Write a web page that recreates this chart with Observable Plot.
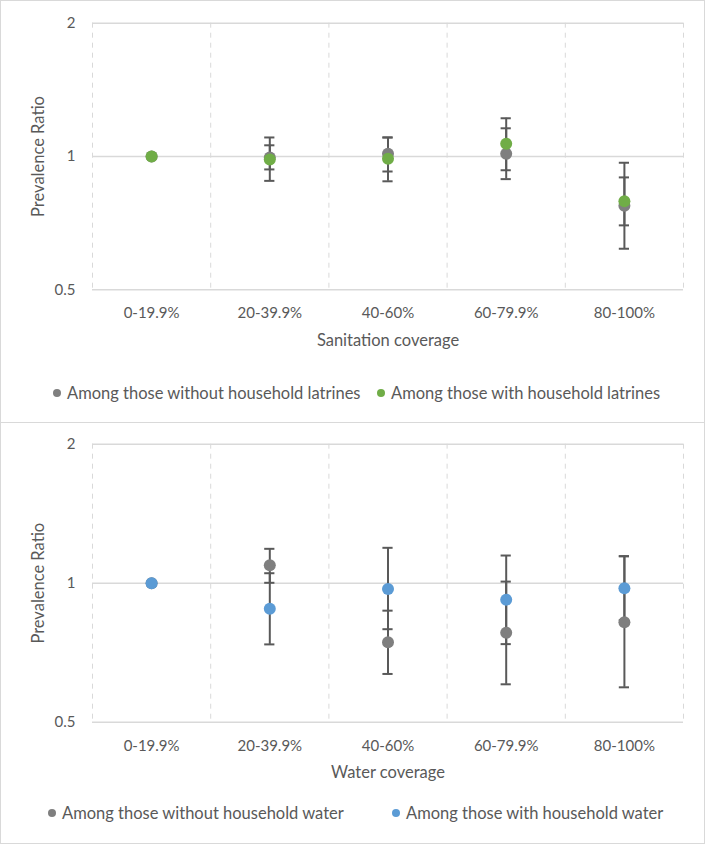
<!DOCTYPE html>
<html>
<head>
<meta charset="utf-8">
<script src="https://cdn.jsdelivr.net/npm/d3@7"></script>
<script src="https://cdn.jsdelivr.net/npm/@observablehq/plot@0.6"></script>
<style>
  html, body { margin: 0; padding: 0; background: #fff; }
  body { font-family: Lato, "Open Sans", sans-serif; color: #595959; }
  .panel { position: absolute; left: 0; width: 705px; box-sizing: border-box; border: 1px solid #d9d9d9; background: #fff; }
  .item { position: absolute; height: 20px; display: flex; align-items: center; white-space: nowrap; font-size: 16.5px; line-height: 20px; }
  .sw { width: 8px; height: 8px; border-radius: 50%; margin-right: 6px; display: inline-block; }
</style>
</head>
<body>
<div id="p1" class="panel" style="top:0;height:423px;"></div>
<div id="p2" class="panel" style="top:423px;height:421px;border-top:none;"></div>
<script>
// ---- data ----
const categories = ["0-19.9%", "20-39.9%", "40-60%", "60-79.9%", "80-100%"];
const yTicks = [0.5, 1, 2];
const yLabel = "Prevalence Ratio";

// Panel 1: sanitation coverage
const sanTitle = "Sanitation coverage";
const sanSeries = ["Among those without household latrines", "Among those with household latrines"];
const sanColors = ["#7f7f7f", "#70ad47"];
const sanWithoutPR = [1, 0.995, 1.014, 1.014, 0.774];
const sanWithoutLo = [null, 0.935, 0.925, 0.889, 0.619];
const sanWithoutHi = [null, 1.060, 1.104, 1.158, 0.968];
const sanWithPR    = [1, 0.985, 0.988, 1.068, 0.792];
const sanWithLo    = [null, 0.881, 0.879, 0.931, 0.699];
const sanWithHi    = [null, 1.104, 1.104, 1.220, 0.897];

// Panel 2: water coverage
const watTitle = "Water coverage";
const watSeries = ["Among those without household water", "Among those with household water"];
const watColors = ["#7f7f7f", "#5b9bd5"];
const watWithoutPR = [1, 1.094, 0.745, 0.781, 0.823];
const watWithoutLo = [null, 1.002, 0.636, 0.604, 0.595];
const watWithoutHi = [null, 1.187, 0.872, 1.008, 1.144];
const watWithPR    = [1, 0.880, 0.972, 0.921, 0.975];
const watWithLo    = [null, 0.737, 0.795, 0.738, 0.832];
const watWithHi    = [null, 1.051, 1.193, 1.148, 1.144];

function rows(series, pr, lo, hi) {
  return categories.map((c, i) => ({i, category: c, series, value: pr[i], lo: lo[i], hi: hi[i]}));
}

function makePanel(el, cfg) {
  const a = rows(cfg.series[0], cfg.pr[0], cfg.lo[0], cfg.hi[0]);
  const b = rows(cfg.series[1], cfg.pr[1], cfg.lo[1], cfg.hi[1]);
  const bars = a.concat(b).filter(d => d.lo != null);
  const bounds = categories.map((_, i) => i - 0.5).concat([categories.length - 0.5]);
  const capStyle = {stroke: "#595959", strokeWidth: 2, insetLeft: 54, insetRight: 54};
  const svg = Plot.plot({
    width: 703,
    height: cfg.height,
    marginLeft: 91,
    marginRight: 21,
    marginTop: cfg.marginTop,
    marginBottom: cfg.marginBottom,
    style: {fontFamily: "Lato, 'Open Sans', sans-serif", fontSize: "15px", color: "#595959", background: "#fff", overflow: "visible"},
    x: {type: "linear", domain: [-0.5, categories.length - 0.5]},
    y: {type: "log", domain: [0.5, 2]},
    marks: [
      Plot.ruleX(bounds, {stroke: "#d9d9d9", strokeWidth: 1, strokeDasharray: "5,5"}),
      Plot.ruleY(yTicks, {stroke: "#d9d9d9", strokeWidth: 1.5}),
      Plot.axisX(categories.map((_, i) => i), {
        tickFormat: i => categories[i], tickSize: 0, tickPadding: 18,
        label: null, fill: "#595959"
      }),
      Plot.axisX({
        ticks: [], label: cfg.title, labelAnchor: "center", labelOffset: 56, labelArrow: false,
        fill: "#595959", fontSize: 16.5
      }),
      Plot.axisY(yTicks, {
        tickFormat: d => String(d), tickSize: 0, tickPadding: 17,
        label: null, fill: "#595959"
      }),
      Plot.axisY({
        ticks: [], label: yLabel, labelAnchor: "center", labelOffset: 60, labelArrow: false,
        fill: "#595959", fontSize: 16.5
      }),
      Plot.ruleX(bars, {x: "i", y1: "lo", y2: "hi", stroke: "#595959", strokeWidth: 2}),
      Plot.ruleY(bars, {y: "lo", x1: d => d.i - 0.5, x2: d => d.i + 0.5, ...capStyle}),
      Plot.ruleY(bars, {y: "hi", x1: d => d.i - 0.5, x2: d => d.i + 0.5, ...capStyle}),
      Plot.dot(a, {x: "i", y: "value", r: 6, fill: cfg.colors[0]}),
      Plot.dot(b, {x: "i", y: "value", r: 6, fill: cfg.colors[1]})
    ]
  });
  el.appendChild(svg);
  cfg.series.forEach((s, k) => {
    const it = document.createElement("div");
    it.className = "item";
    it.style.top = cfg.legendTop + "px";
    it.style.left = cfg.legendLeft[k] + "px";
    const sw = document.createElement("span");
    sw.className = "sw";
    sw.style.background = cfg.colors[k];
    const t = document.createElement("span");
    t.textContent = s;
    it.appendChild(sw); it.appendChild(t);
    el.appendChild(it);
  });
}

makePanel(document.getElementById("p1"), {
  title: sanTitle, series: sanSeries, colors: sanColors,
  pr: [sanWithoutPR, sanWithPR], lo: [sanWithoutLo, sanWithLo], hi: [sanWithoutHi, sanWithHi],
  height: 360, marginTop: 21.7, marginBottom: 71.7, legendTop: 382, legendLeft: [52, 376]
});
makePanel(document.getElementById("p2"), {
  title: watTitle, series: watSeries, colors: watColors,
  pr: [watWithoutPR, watWithPR], lo: [watWithoutLo, watWithLo], hi: [watWithoutHi, watWithHi],
  height: 370, marginTop: 20.7, marginBottom: 71.3, legendTop: 380, legendLeft: [47, 391]
});
</script>
</body>
</html>
